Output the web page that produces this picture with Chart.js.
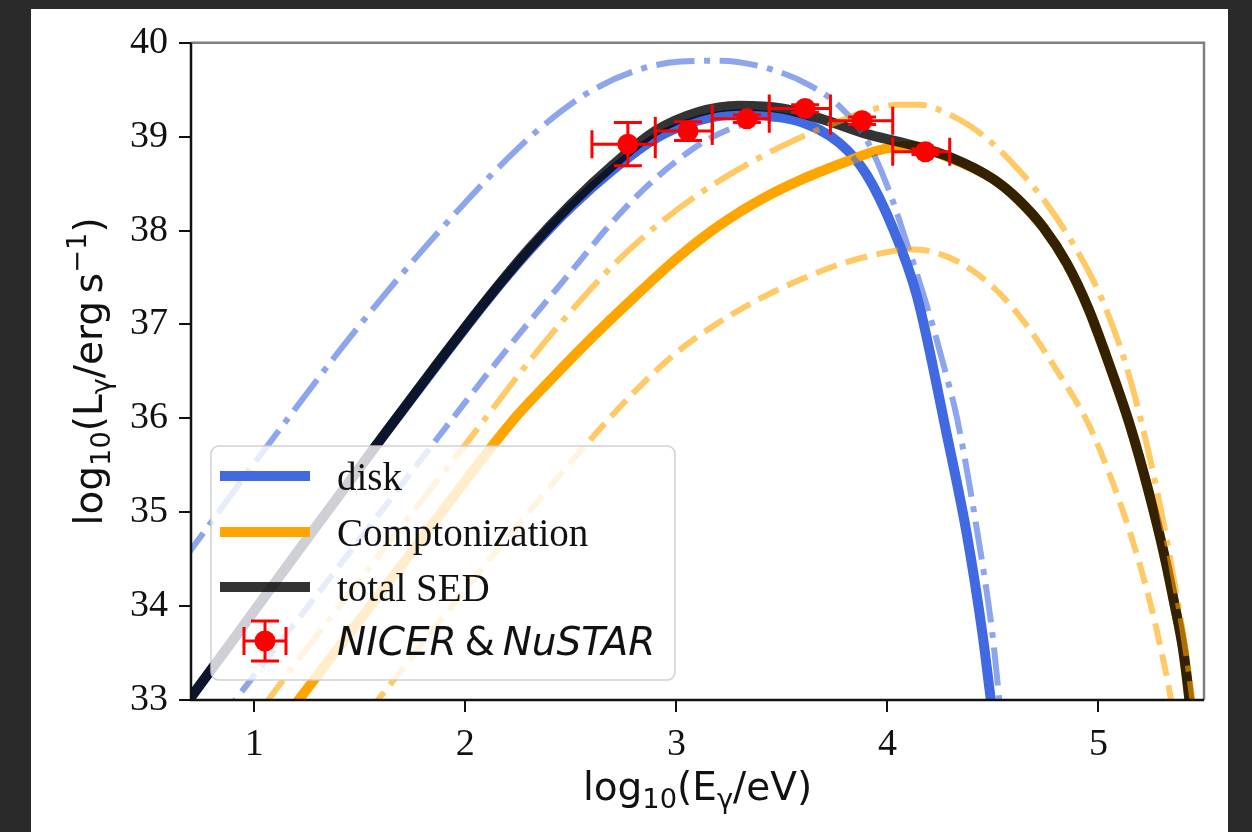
<!DOCTYPE html>
<html>
<head>
<meta charset="utf-8">
<script src="https://cdn.jsdelivr.net/npm/chart.js@4.4.1/dist/chart.umd.min.js"></script>
<style>
  html, body { margin: 0; padding: 0; background: #2a2a2a; overflow: hidden; }
  #figura { position: absolute; left: 31px; top: 9px; width: 1197px; height: 823px; background: #fff; }
  canvas { display: block; }
</style>
</head>
<body>
<div id="figura"><canvas id="sed" width="1197" height="823"></canvas></div>
<script>
// log10(E/eV) vs log10(L/erg s^-1)
const totalX = [0.65, 0.70, 1.00, 1.30, 1.60, 1.90, 2.10, 2.30, 2.50, 2.70, 2.90, 3.10, 3.30, 3.50, 3.70, 3.90, 4.10, 4.30, 4.50, 4.62, 4.74, 4.85, 4.95, 5.05, 5.15, 5.24, 5.31, 5.36, 5.40, 5.43, 5.46];
const totalY = [32.88, 33.03, 33.95, 34.87, 35.78, 36.68, 37.26, 37.80, 38.28, 38.70, 39.06, 39.26, 39.33, 39.30, 39.18, 39.03, 38.92, 38.78, 38.55, 38.33, 38.03, 37.65, 37.18, 36.58, 35.92, 35.20, 34.56, 34.02, 33.55, 33.02, 32.35];

const diskX = [0.65, 0.70, 1.00, 1.30, 1.60, 1.90, 2.10, 2.30, 2.50, 2.70, 2.90, 3.10, 3.30, 3.45, 3.585, 3.774, 3.90, 4.025, 4.14, 4.28, 4.375, 4.45, 4.49, 4.52];
const diskY = [32.88, 33.03, 33.95, 34.87, 35.78, 36.67, 37.25, 37.78, 38.25, 38.65, 38.98, 39.17, 39.24, 39.22, 39.16, 38.93, 38.60, 38.03, 37.30, 35.84, 34.78, 33.71, 33.00, 32.50];

const diskDashX = [0.85, 0.92, 1.30, 1.786, 2.117, 2.30, 2.50, 2.70, 2.85, 3.00, 3.14, 3.30, 3.45, 3.585, 3.774, 3.90, 4.025, 4.14, 4.28, 4.375, 4.45, 4.49, 4.52];
const diskDashY = [32.82, 33.03, 34.13, 35.55, 36.51, 37.02, 37.56, 38.10, 38.45, 38.74, 38.96, 39.12, 39.19, 39.15, 38.92, 38.59, 38.02, 37.30, 35.84, 34.78, 33.71, 33.00, 32.50];

const diskDotX = [0.65, 0.70, 1.00, 1.20, 1.40, 1.60, 1.80, 2.00, 2.117, 2.354, 2.59, 2.83, 3.02, 3.20, 3.43, 3.63, 3.77, 3.90, 4.00, 4.09, 4.20, 4.28, 4.33, 4.425, 4.497, 4.53, 4.55];
const diskDotY = [34.45, 34.60, 35.52, 36.12, 36.71, 37.27, 37.80, 38.30, 38.58, 39.09, 39.48, 39.72, 39.80, 39.81, 39.73, 39.55, 39.33, 38.97, 38.47, 37.88, 37.10, 36.45, 36.00, 34.80, 33.71, 33.00, 32.50];

const comptX = [1.15, 1.22, 1.72, 2.226, 2.40, 2.60, 2.80, 3.00, 3.20, 3.40, 3.60, 3.80, 3.95, 4.10, 4.30, 4.50, 4.62, 4.74, 4.85, 4.95, 5.05, 5.15, 5.24, 5.31, 5.36, 5.40, 5.43, 5.46];
const comptY = [32.82, 33.03, 34.50, 35.98, 36.40, 36.86, 37.29, 37.70, 38.05, 38.33, 38.55, 38.73, 38.85, 38.90, 38.77, 38.55, 38.33, 38.03, 37.65, 37.18, 36.58, 35.92, 35.20, 34.56, 34.02, 33.55, 33.02, 32.35];

const comptDashX = [1.55, 1.60, 2.00, 2.30, 2.56, 2.80, 3.00, 3.20, 3.40, 3.60, 3.80, 4.00, 4.10, 4.20, 4.35, 4.50, 4.65, 4.80, 4.95, 5.05, 5.15, 5.24, 5.30, 5.34, 5.37];
const comptDashY = [32.90, 33.04, 34.18, 35.00, 35.69, 36.28, 36.70, 37.02, 37.28, 37.49, 37.66, 37.77, 37.80, 37.78, 37.65, 37.40, 37.02, 36.52, 35.95, 35.42, 34.78, 34.08, 33.50, 33.05, 32.60];

const comptDotX = [1.03, 1.076, 1.50, 2.00, 2.30, 2.50, 2.70, 2.90, 3.10, 3.30, 3.50, 3.70, 3.90, 4.05, 4.15, 4.30, 4.45, 4.60, 4.75, 4.90, 5.02, 5.13, 5.21, 5.30, 5.36, 5.40, 5.445, 5.47];
const comptDotY = [32.88, 33.03, 34.28, 35.72, 36.60, 37.14, 37.63, 38.04, 38.38, 38.66, 38.90, 39.10, 39.27, 39.34, 39.34, 39.23, 39.02, 38.70, 38.30, 37.78, 37.25, 36.57, 35.90, 34.98, 34.25, 33.72, 33.00, 32.50];

// NICER & NuSTAR
const obsX = [2.77, 3.055, 3.334, 3.61, 3.88, 4.18];
const obsY = [38.92, 39.06, 39.19, 39.30, 39.17, 38.84];
const obsXLow = [2.60, 2.90, 3.17, 3.44, 3.73, 4.025];
const obsXHigh = [2.90, 3.17, 3.44, 3.73, 4.025, 4.295];
const obsYErr = [0.23, 0.10, 0.04, 0.04, 0.04, 0.03];

const xTicks = [1, 2, 3, 4, 5];
const yTicks = [33, 34, 35, 36, 37, 38, 39, 40];

const AZUL = 'rgb(65,105,225)';
const AZUL_CLARO = 'rgba(65,105,225,0.6)';
const NARANJA = 'rgb(255,165,0)';
const NARANJA_CLARO = 'rgba(255,165,0,0.6)';
const NEGRO = 'rgba(0,0,0,0.8)';
const RAYAS = [22, 9.6];
const RAYA_PUNTO = [38.4, 9.6, 6, 9.6];
const CAP = 14;

const pares = (xs, ys) => xs.map((x, i) => ({ x, y: ys[i] }));

const curva = (xs, ys, color, ancho, dash, orden) => ({
  data: pares(xs, ys),
  showLine: true,
  borderColor: color,
  borderWidth: ancho,
  borderDash: dash,
  pointRadius: 0,
  cubicInterpolationMode: 'monotone',
  clip: 0,
  order: orden,
});

const SERIF = '"Liberation Serif", "Times New Roman", serif';
const SANS = '"DejaVu Sans", sans-serif';

// texto con subindices / superindices, alineado por la linea base
function textoCompuesto(ctx, partes, x, y, size, centrar) {
  const fuente = p => `${p.it ? 'italic ' : ''}${p.sub || p.sup ? size * 0.7 : size}px ${SANS}`;
  let ancho = 0;
  partes.forEach(p => { ctx.font = fuente(p); ancho += ctx.measureText(p.t).width; });
  let cx = centrar ? x - ancho / 2 : x;
  ctx.textBaseline = 'alphabetic';
  ctx.textAlign = 'left';
  partes.forEach(p => {
    ctx.font = fuente(p);
    const dy = p.sub ? size * 0.2 : p.sup ? -size * 0.42 : 0;
    ctx.fillText(p.t, cx, y + dy);
    cx += ctx.measureText(p.t).width;
  });
}

const tituloX = [{ t: 'log' }, { t: '10', sub: true }, { t: '(E' }, { t: 'γ', sub: true }, { t: '/eV)' }];
const tituloY = [{ t: 'log' }, { t: '10', sub: true }, { t: '(L' }, { t: 'γ', sub: true }, { t: '/erg\u2009s' }, { t: '−1', sup: true }, { t: ')' }];

const titulos = {
  id: 'titulos',
  afterDraw(chart) {
    const { ctx, chartArea: a } = chart;
    ctx.save();
    ctx.fillStyle = '#111';
    textoCompuesto(ctx, tituloX, (a.left + a.right) / 2, 791, 39, true);
    ctx.translate(71, (a.top + a.bottom) / 2);
    ctx.rotate(-Math.PI / 2);
    textoCompuesto(ctx, tituloY, 0, 0, 39, true);
    ctx.restore();
  }
};

function dibujarBarra(ctx, px, py, x0, x1, y0, y1) {
  ctx.beginPath();
  ctx.moveTo(x0, py); ctx.lineTo(x1, py);
  ctx.moveTo(x0, py - CAP); ctx.lineTo(x0, py + CAP);
  ctx.moveTo(x1, py - CAP); ctx.lineTo(x1, py + CAP);
  ctx.moveTo(px, y0); ctx.lineTo(px, y1);
  ctx.moveTo(px - CAP, y0); ctx.lineTo(px + CAP, y0);
  ctx.moveTo(px - CAP, y1); ctx.lineTo(px + CAP, y1);
  ctx.stroke();
}

// barras de error de las observaciones, justo antes de sus marcadores
const barrasError = {
  id: 'barrasError',
  beforeDatasetDraw(chart, args) {
    if (args.index !== 0) return;
    const { ctx, scales: { x, y } } = chart;
    ctx.save();
    ctx.strokeStyle = 'red';
    ctx.lineWidth = 3;
    obsX.forEach((xv, i) => {
      dibujarBarra(ctx,
        x.getPixelForValue(xv), y.getPixelForValue(obsY[i]),
        x.getPixelForValue(obsXLow[i]), x.getPixelForValue(obsXHigh[i]),
        y.getPixelForValue(obsY[i] - obsYErr[i]), y.getPixelForValue(obsY[i] + obsYErr[i]));
    });
    ctx.restore();
  }
};

const marco = {
  id: 'marco',
  afterDatasetsDraw(chart) {
    const { ctx, chartArea: a } = chart;
    ctx.save();
    ctx.lineWidth = 2.5;
    ctx.strokeStyle = '#7f7f7f';
    ctx.beginPath();
    ctx.moveTo(a.left, a.top); ctx.lineTo(a.right, a.top); ctx.lineTo(a.right, a.bottom);
    ctx.stroke();
    ctx.strokeStyle = '#111';
    ctx.beginPath();
    ctx.moveTo(a.left, a.top); ctx.lineTo(a.left, a.bottom); ctx.lineTo(a.right, a.bottom);
    ctx.stroke();
    ctx.restore();
  }
};

const entradas = [
  { label: 'disk', ds: 7 },
  { label: 'Comptonization', ds: 6 },
  { label: 'total SED', ds: 5 },
];

const leyenda = {
  id: 'leyenda',
  afterDraw(chart) {
    const { ctx } = chart;
    const caja = { x: 180, y: 437, w: 464, h: 234 };
    ctx.save();
    ctx.beginPath();
    ctx.roundRect(caja.x, caja.y, caja.w, caja.h, 8);
    ctx.fillStyle = 'rgba(255,255,255,0.8)';
    ctx.fill();
    ctx.strokeStyle = 'rgba(204,204,204,0.9)';
    ctx.lineWidth = 1.5;
    ctx.stroke();

    const filas = [467, 523, 578];
    entradas.forEach((e, i) => {
      const ds = chart.data.datasets[e.ds];
      ctx.strokeStyle = ds.borderColor;
      ctx.lineWidth = ds.borderWidth;
      ctx.beginPath();
      ctx.moveTo(189, filas[i]); ctx.lineTo(279, filas[i]);
      ctx.stroke();
      ctx.fillStyle = '#111';
      ctx.font = `39px ${SERIF}`;
      ctx.textBaseline = 'alphabetic';
      ctx.fillText(e.label, 306, filas[i] + 14);
    });

    // simbolo de las observaciones
    const mx = 234, my = 632;
    ctx.strokeStyle = 'red';
    ctx.lineWidth = 3;
    dibujarBarra(ctx, mx, my, mx - 21, mx + 21, my + 20, my - 20);
    ctx.fillStyle = 'red';
    ctx.beginPath();
    ctx.arc(mx, my, 10.5, 0, Math.PI * 2);
    ctx.fill();

    ctx.fillStyle = '#111';
    textoCompuesto(ctx, [
      { t: 'NICER', it: true }, { t: '\u2009&\u2009' }, { t: 'NuSTAR', it: true }
    ], 306, 646, 39, false);
    ctx.restore();
  }
};

new Chart(document.getElementById('sed'), {
  type: 'scatter',
  data: {
    datasets: [
      {
        data: pares(obsX, obsY),
        pointRadius: 10.5,
        pointBackgroundColor: 'red',
        pointBorderWidth: 0,
        clip: false,
        order: 0,
      },
      curva(comptDotX, comptDotY, NARANJA_CLARO, 6, RAYA_PUNTO, 1),
      curva(comptDashX, comptDashY, NARANJA_CLARO, 6, RAYAS, 2),
      curva(diskDotX, diskDotY, AZUL_CLARO, 6, RAYA_PUNTO, 3),
      curva(diskDashX, diskDashY, AZUL_CLARO, 6, RAYAS, 4),
      curva(totalX, totalY, NEGRO, 10, [], 5),
      curva(comptX, comptY, NARANJA, 10, [], 6),
      curva(diskX, diskY, AZUL, 10, [], 7),
    ]
  },
  options: {
    responsive: false,
    animation: false,
    events: [],
    devicePixelRatio: 1,
    layout: { padding: { top: 33, right: 24, left: 0, bottom: 0 } },
    plugins: {
      legend: { display: false },
      tooltip: { enabled: false },
    },
    scales: {
      x: {
        type: 'linear',
        min: 0.7,
        max: 5.5,
        afterBuildTicks: s => { s.ticks = xTicks.map(v => ({ value: v })); },
        afterFit: s => { s.height = 132; },
        grid: { drawOnChartArea: false, drawTicks: true, tickLength: 12, color: '#111', lineWidth: 2 },
        border: { display: false },
        ticks: { font: { family: SERIF, size: 38 }, color: '#111', padding: 10, maxRotation: 0 },
      },
      y: {
        type: 'linear',
        min: 33,
        max: 40,
        afterBuildTicks: s => { s.ticks = yTicks.map(v => ({ value: v })); },
        afterFit: s => { s.width = 160; },
        grid: { drawOnChartArea: false, drawTicks: true, tickLength: 12, color: '#111', lineWidth: 2 },
        border: { display: false },
        ticks: { font: { family: SERIF, size: 38 }, color: '#111', padding: 11 },
      }
    }
  },
  plugins: [barrasError, marco, leyenda, titulos]
});
</script>
</body>
</html>
